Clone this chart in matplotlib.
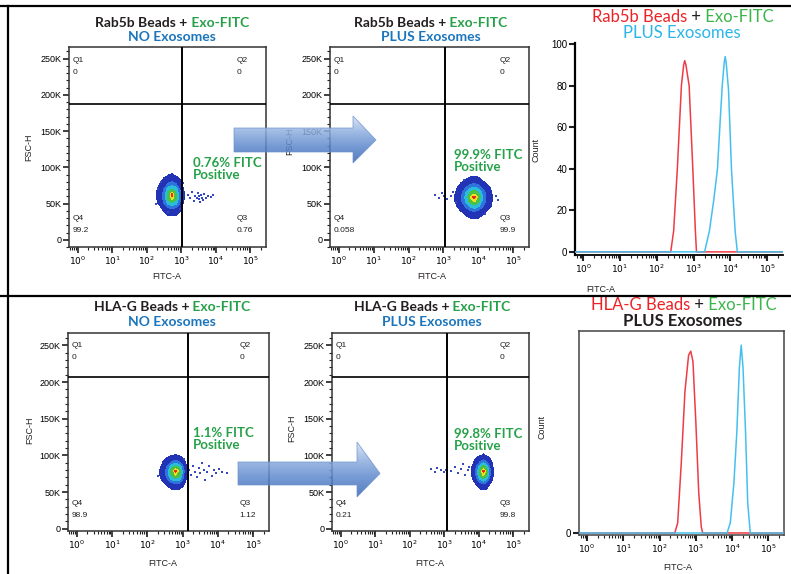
import numpy as np
import matplotlib.pyplot as plt
from matplotlib.patches import Polygon
from matplotlib.lines import Line2D
from matplotlib.colors import LinearSegmentedColormap
from matplotlib.ticker import FixedLocator, FuncFormatter, LogLocator, MultipleLocator, NullFormatter

# figure size in pixels (dpi 100)
W, H = 791, 574
TITLE_FONT = ['Lato', 'DejaVu Sans']
TICK_FONT = ['Liberation Sans', 'DejaVu Sans']

BLACK = '#231f20'
GREEN = '#27a149'
BLUE = '#1b75bc'
CYAN = '#2bb5e8'
RED = '#ec2227'

# ---- flow panels: density grid (log10 FITC x FSC in K), sparse events, gates, quadrant %
p1_grid_x = [2.2, 2.35, 2.5, 2.62, 2.73, 2.84, 2.95, 3.05, 3.15]
p1_grid_y = [32, 42, 50, 57, 63, 70, 78, 88, 96]
p1_dens = [[0, 0, 0, 0.02, 0.03, 0.02, 0, 0, 0],
           [0, 0, 0.08, 0.2, 0.25, 0.2, 0.08, 0, 0],
           [0, 0.06, 0.3, 0.55, 0.65, 0.55, 0.3, 0.05, 0],
           [0, 0.1, 0.4, 0.75, 0.92, 0.75, 0.4, 0.08, 0],
           [0, 0.1, 0.4, 0.75, 1.0, 0.75, 0.4, 0.08, 0],
           [0, 0.08, 0.32, 0.6, 0.7, 0.6, 0.3, 0.06, 0],
           [0, 0.03, 0.15, 0.3, 0.35, 0.3, 0.12, 0.02, 0],
           [0, 0, 0.02, 0.06, 0.08, 0.05, 0.01, 0, 0],
           [0, 0, 0, 0, 0, 0, 0, 0, 0]]
p1_out_x = [3.18, 3.25, 3.3, 3.36, 3.4, 3.44, 3.47, 3.5, 3.52, 3.55, 3.58, 3.6,
            3.63, 3.67, 3.72, 3.78, 3.85, 3.92, 2.28, 2.32, 2.95, 3.06, 2.4, 2.6]
p1_out_y = [62, 57, 66, 54, 61, 58, 64, 56, 60, 52, 62, 58,
            55, 63, 57, 60, 59, 62, 50, 70, 42, 78, 80, 38]

p2_grid_x = [3.2, 3.35, 3.5, 3.65, 3.78, 3.88, 3.98, 4.1, 4.25, 4.4, 4.55]
p2_grid_y = [28, 38, 46, 53, 59, 66, 73, 82, 92]
p2_dens = [[0, 0, 0, 0, 0.02, 0.03, 0.02, 0, 0, 0, 0],
           [0, 0, 0.03, 0.1, 0.2, 0.25, 0.2, 0.1, 0.03, 0, 0],
           [0, 0.03, 0.15, 0.35, 0.55, 0.62, 0.55, 0.35, 0.12, 0.02, 0],
           [0, 0.06, 0.25, 0.55, 0.8, 0.9, 0.8, 0.5, 0.2, 0.04, 0],
           [0, 0.07, 0.28, 0.6, 0.9, 1.0, 0.88, 0.55, 0.22, 0.05, 0],
           [0, 0.05, 0.22, 0.5, 0.72, 0.8, 0.7, 0.45, 0.18, 0.03, 0],
           [0, 0.02, 0.1, 0.28, 0.42, 0.48, 0.4, 0.25, 0.08, 0.01, 0],
           [0, 0, 0.02, 0.06, 0.1, 0.12, 0.1, 0.05, 0.01, 0, 0],
           [0, 0, 0, 0, 0, 0, 0, 0, 0, 0, 0]]
p2_out_x = [2.75, 2.88, 2.95, 3.02, 3.1, 3.22, 3.28, 3.35, 4.5, 4.55, 3.6, 4.2]
p2_out_y = [62, 58, 64, 60, 56, 61, 66, 52, 60, 55, 82, 36]

p4_grid_x = [2.25, 2.4, 2.55, 2.68, 2.8, 2.9, 3.0, 3.1, 3.2]
p4_grid_y = [52, 60, 67, 73, 79, 85, 92, 100, 108]
p4_dens = [[0, 0, 0, 0.01, 0.02, 0.01, 0, 0, 0],
           [0, 0, 0.06, 0.15, 0.2, 0.18, 0.08, 0, 0],
           [0, 0.05, 0.25, 0.5, 0.6, 0.55, 0.3, 0.05, 0],
           [0, 0.08, 0.35, 0.72, 0.88, 0.8, 0.42, 0.07, 0],
           [0, 0.08, 0.38, 0.78, 1.0, 0.85, 0.45, 0.08, 0],
           [0, 0.06, 0.3, 0.6, 0.75, 0.65, 0.35, 0.06, 0],
           [0, 0.02, 0.12, 0.28, 0.35, 0.3, 0.12, 0.02, 0],
           [0, 0, 0.01, 0.04, 0.06, 0.04, 0.01, 0, 0],
           [0, 0, 0, 0, 0, 0, 0, 0, 0]]
p4_out_x = [3.18, 3.24, 3.3, 3.35, 3.42, 3.46, 3.5, 3.55, 3.6, 3.64, 3.7, 3.75,
            3.82, 3.88, 3.95, 4.02, 4.12, 4.25, 2.3, 3.05]
p4_out_y = [80, 74, 86, 78, 70, 83, 76, 90, 80, 66, 78, 85,
            72, 80, 76, 82, 78, 76, 72, 95]

p5_grid_x = [3.7, 3.82, 3.93, 4.04, 4.13, 4.22, 4.31, 4.4, 4.52]
p5_grid_y = [52, 60, 67, 73, 79, 85, 92, 100, 108]
p5_dens = [[0, 0, 0, 0.01, 0.02, 0.01, 0, 0, 0],
           [0, 0, 0.05, 0.15, 0.22, 0.15, 0.05, 0, 0],
           [0, 0.04, 0.25, 0.5, 0.62, 0.5, 0.22, 0.03, 0],
           [0, 0.07, 0.35, 0.75, 0.9, 0.75, 0.35, 0.06, 0],
           [0, 0.08, 0.38, 0.8, 1.0, 0.82, 0.38, 0.07, 0],
           [0, 0.06, 0.3, 0.62, 0.78, 0.62, 0.3, 0.05, 0],
           [0, 0.02, 0.12, 0.3, 0.38, 0.3, 0.12, 0.02, 0],
           [0, 0, 0.01, 0.04, 0.07, 0.04, 0.01, 0, 0],
           [0, 0, 0, 0, 0, 0, 0, 0, 0]]
p5_out_x = [2.62, 2.72, 2.8, 2.9, 3.0, 3.05, 3.2, 3.32, 3.4, 3.48, 3.55, 3.6, 3.68, 3.72]
p5_out_y = [81, 78, 83, 80, 77, 80, 79, 84, 76, 81, 88, 73, 80, 84]

gate_fitc = [1050, 1120, 1450, 1230]
gate_fsc = [188000, 188000, 207000, 207000]
quad_vals = [['0', '0', '99.2', '0.76'],
             ['0', '0', '0.058', '99.9'],
             ['0', '0', '98.9', '1.12'],
             ['0', '0', '0.21', '99.8']]
pct_labels = ['0.76% FITC\nPositive', '99.9% FITC\nPositive',
              '1.1% FITC\nPositive', '99.8% FITC\nPositive']

# ---- histograms (FITC value, count)
top_red_fitc = [0.4, 240, 288, 363, 468, 540, 575, 620, 759, 955, 1122, 1202, 3e5]
top_red_count = [0, 0, 10, 40, 80, 90, 92, 90, 80, 40, 10, 0, 0]
top_blue_fitc = [0.4, 1995, 2692, 3548, 4467, 5370, 6026, 6800, 7244, 7700, 8913, 10715, 13490, 15488, 3e5]
top_blue_count = [0, 0, 10, 25, 40, 65, 80, 91, 94, 91, 78, 40, 10, 0, 0]

bot_red_fitc = [0.4, 263, 316, 398, 501, 631, 724, 832, 1000, 1202, 1413, 1549, 3e5]
bot_red_count = [0, 0, 5, 35, 70, 88, 90, 85, 55, 20, 3, 0, 0]
bot_blue_fitc = [0.4, 7244, 8913, 11220, 13490, 15849, 17783, 19953, 23442, 26915, 31623, 3e5]
bot_blue_count = [0, 0, 5, 25, 50, 82, 93, 82, 50, 15, 0, 0]

decades = [1, 10, 100, 1000, 10000, 100000]
fsc_ticks = [0, 50000, 100000, 150000, 200000, 250000]
hist_ticks = [0, 20, 40, 60, 80, 100]

LEVELS = [0.05, 0.3, 0.5, 0.7, 0.88, 0.96, 1.1]
BLOB_COLORS = ['#2233b6', '#2f74dc', '#28bdd8', '#4cbf45', '#efe01e', '#ea2b1f']


def px_axes(fig, left, top, right, bottom, **kw):
    return fig.add_axes([left / W, 1 - bottom / H, (right - left) / W, (bottom - top) / H], **kw)


def ftext(fig, x, y, s, **kw):
    kw.setdefault('family', TICK_FONT)
    return fig.text(x / W, 1 - y / H, s, **kw)


def color_line(fig, xc, yc, parts, size, weight='bold'):
    r = fig.canvas.get_renderer()
    texts = [ftext(fig, 0, yc, s, color=c, fontsize=size, fontweight=weight,
                   family=TITLE_FONT, va='center', ha='left') for s, c in parts]
    widths = [t.get_window_extent(r).width for t in texts]
    x = xc - sum(widths) / 2
    for t, w in zip(texts, widths):
        t.set_x(x / W)
        x += w


def log_xaxis(ax):
    ax.set_xscale('log')
    ax.xaxis.set_major_locator(FixedLocator(decades))
    ax.xaxis.set_major_formatter(FuncFormatter(lambda v, p: r'$10^{%d}$' % round(np.log10(v))))
    ax.xaxis.set_minor_locator(LogLocator(base=10, subs=np.arange(2, 10)))
    ax.xaxis.set_minor_formatter(NullFormatter())


def style_ticks(ax, color=BLACK, width=1.2):
    ax.tick_params(which='major', direction='out', length=4, width=width, color=color,
                   labelsize=6.5, pad=1.5)
    ax.tick_params(which='minor', direction='out', length=2, width=0.8, color=color)
    for lab in ax.get_xticklabels() + ax.get_yticklabels():
        lab.set_family(TICK_FONT)


def flow_panel(fig, box, ylim, gx, gy, dens, ox, oy, gate_x, gate_y, quads):
    ax = px_axes(fig, *box)
    log_xaxis(ax)
    ax.contourf(10 ** np.array(gx), np.array(gy) * 1000, np.array(dens),
                levels=LEVELS, colors=BLOB_COLORS, zorder=2)
    ax.scatter(10 ** np.array(ox), np.array(oy) * 1000, s=1.5, c='#3549c0',
               marker='s', linewidths=0, zorder=2)
    ax.axvline(gate_x, color='k', lw=1.4, zorder=3)
    ax.axhline(gate_y, color='k', lw=1.2, zorder=3)
    ax.set_xlim(10 ** -0.25, 10 ** 5.45)
    ax.set_ylim(*ylim)
    ax.yaxis.set_major_locator(FixedLocator(fsc_ticks))
    ax.yaxis.set_major_formatter(FuncFormatter(lambda v, p: '0' if v == 0 else '%dK' % (v / 1000)))
    ax.yaxis.set_minor_locator(MultipleLocator(10000))
    for sp in ax.spines.values():
        sp.set_color('#333333')
        sp.set_linewidth(1.1)
    style_ticks(ax)
    kw = dict(transform=ax.transAxes, fontsize=6, family=TICK_FONT, color=BLACK, va='center')
    x_l, x_r = 0.02, 0.853
    ax.text(x_l, 0.935, 'Q1', **kw)
    ax.text(x_l, 0.875, quads[0], **kw)
    ax.text(x_r, 0.935, 'Q2', **kw)
    ax.text(x_r, 0.875, quads[1], **kw)
    ax.text(x_l, 0.14, 'Q4', **kw)
    ax.text(x_l, 0.08, quads[2], **kw)
    ax.text(x_r, 0.14, 'Q3', **kw)
    ax.text(x_r, 0.08, quads[3], **kw)
    return ax


def hist_panel(fig, box, series, boxed):
    ax = px_axes(fig, *box)
    log_xaxis(ax)
    for x, y, c in series:
        ax.plot(x, y, color=c, lw=1.1, zorder=3)
    ax.set_xlim(10 ** -0.22, 10 ** 5.43)
    style_ticks(ax, width=1.5)
    if boxed:
        for sp in ax.spines.values():
            sp.set_color('#444444')
            sp.set_linewidth(1.1)
    else:
        ax.spines['top'].set_visible(False)
        ax.spines['right'].set_visible(False)
        ax.spines['left'].set_linewidth(1.6)
        ax.spines['bottom'].set_linewidth(1.3)
    return ax


fig = plt.figure(figsize=(W / 100, H / 100), dpi=100)
fig.patch.set_facecolor('white')

# ---------------- top row ----------------
flow_panel(fig, (69, 47, 266, 247), (-10000, 266000), p1_grid_x, p1_grid_y, p1_dens,
           p1_out_x, p1_out_y, gate_fitc[0], gate_fsc[0], quad_vals[0])
flow_panel(fig, (330, 47, 529, 247), (-10000, 266000), p2_grid_x, p2_grid_y, p2_dens,
           p2_out_x, p2_out_y, gate_fitc[1], gate_fsc[1], quad_vals[1])

ax3 = hist_panel(fig, (575, 43, 783, 255),
                 [(top_red_fitc, top_red_count, '#ef3b45'),
                  (top_blue_fitc, top_blue_count, '#45c0ee')], boxed=False)
ax3.set_ylim(-1.5, 100.5)
ax3.yaxis.set_major_locator(FixedLocator(hist_ticks))
ax3.tick_params(axis='y', labelsize=7)

# ---------------- bottom row ----------------
flow_panel(fig, (68, 333, 269, 531), (-3000, 267000), p4_grid_x, p4_grid_y, p4_dens,
           p4_out_x, p4_out_y, gate_fitc[2], gate_fsc[2], quad_vals[2])
flow_panel(fig, (332, 333, 529, 531), (-3000, 267000), p5_grid_x, p5_grid_y, p5_dens,
           p5_out_x, p5_out_y, gate_fitc[3], gate_fsc[3], quad_vals[3])

ax6 = hist_panel(fig, (579, 331, 784, 535),
                 [(bot_red_fitc, bot_red_count, '#ef3b45'),
                  (bot_blue_fitc, bot_blue_count, '#45c0ee')], boxed=True)
ax6.set_ylim(-1, 100)
ax6.yaxis.set_major_locator(FixedLocator([0]))
ax6.tick_params(axis='y', labelsize=7)

# ---------------- titles ----------------
TS = 10
color_line(fig, 172, 23, [('Rab5b Beads +', BLACK), (' Exo-FITC', GREEN)], TS)
ftext(fig, 172, 37, 'NO Exosomes', color=BLUE, fontsize=TS, fontweight='bold',
      family=TITLE_FONT, ha='center', va='center')
color_line(fig, 431, 23, [('Rab5b Beads +', BLACK), (' Exo-FITC', GREEN)], TS)
ftext(fig, 431, 37, 'PLUS Exosomes', color=BLUE, fontsize=TS, fontweight='bold',
      family=TITLE_FONT, ha='center', va='center')
color_line(fig, 683, 17, [('Rab5b Beads', RED), (' +', BLACK), (' Exo-FITC', '#3bb54a')], 12, 'normal')
ftext(fig, 682, 33, 'PLUS Exosomes', color=CYAN, fontsize=12,
      family=TITLE_FONT, ha='center', va='center')

color_line(fig, 172, 307, [('HLA-G Beads +', BLACK), (' Exo-FITC', GREEN)], TS)
ftext(fig, 172, 322, 'NO Exosomes', color=BLUE, fontsize=TS, fontweight='bold',
      family=TITLE_FONT, ha='center', va='center')
color_line(fig, 432, 307, [('HLA-G Beads +', BLACK), (' Exo-FITC', GREEN)], TS)
ftext(fig, 432, 322, 'PLUS Exosomes', color=BLUE, fontsize=TS, fontweight='bold',
      family=TITLE_FONT, ha='center', va='center')
color_line(fig, 684, 305, [('HLA-G Beads', RED), (' +', BLACK), (' Exo-FITC', '#3bb54a')], 12, 'normal')
ftext(fig, 683, 321, 'PLUS Exosomes', color=BLACK, fontsize=12, fontweight='bold',
      family=TITLE_FONT, ha='center', va='center')

# % positive labels
for (x, y), s in zip([(193, 169), (454, 161), (193, 439), (454, 440)], pct_labels):
    ftext(fig, x, y, s, color=GREEN, fontsize=9.5, fontweight='bold', family=TITLE_FONT,
          ha='left', va='center', linespacing=0.95)

# axis labels
lab = dict(fontsize=6.5, color=BLACK, ha='center', va='center')
for x, y in [(167, 277), (432, 277), (163, 563), (430, 563), (601, 290), (678, 567)]:
    ftext(fig, x, y, 'FITC-A', **lab)
for x, y in [(29, 147), (290, 141), (30, 430), (292, 428)]:
    ftext(fig, x, y, 'FSC-H', rotation=90, **lab)
for x, y in [(536, 150), (542, 427)]:
    ftext(fig, x, y, 'Count', rotation=90, **lab)

# ---------------- overlay: frame lines and arrows ----------------
ov = fig.add_axes([0, 0, 1, 1], zorder=20)
ov.patch.set_alpha(0)
ov.axis('off')

arrow_cmap = LinearSegmentedColormap.from_list('arr', ['#d3e0f3', '#8eaedf', '#5a86cc', '#3a66b2'])


def block_arrow(x0, x1, xtip, body_top, body_bot, head_top, head_bot):
    yc = (body_top + body_bot) / 2
    verts = [(x0, body_top), (x1, body_top), (x1, head_top), (xtip, yc),
             (x1, head_bot), (x1, body_bot), (x0, body_bot)]
    poly = Polygon(verts, closed=True, fc='none', ec='#6d90cc', lw=0.6, alpha=0.8)
    ov.add_patch(poly)
    grad = np.linspace(0, 1, 64).reshape(-1, 1)
    im = ov.imshow(grad, cmap=arrow_cmap, extent=(x0, xtip, head_bot, head_top),
                   aspect='auto', alpha=0.85, interpolation='bilinear')
    im.set_clip_path(poly)


block_arrow(234, 353, 376, 128, 152, 116, 163)
block_arrow(238, 357, 380, 462, 485, 442, 497)

for xs, ys in [([0, W], [6, 6]), ([7.5, 7.5], [6, H]), ([0, W], [296, 296])]:
    ov.add_line(Line2D(xs, ys, color='black', lw=1.6))

ov.set_xlim(0, W)
ov.set_ylim(H, 0)

fig.savefig('out.png', dpi=100)
